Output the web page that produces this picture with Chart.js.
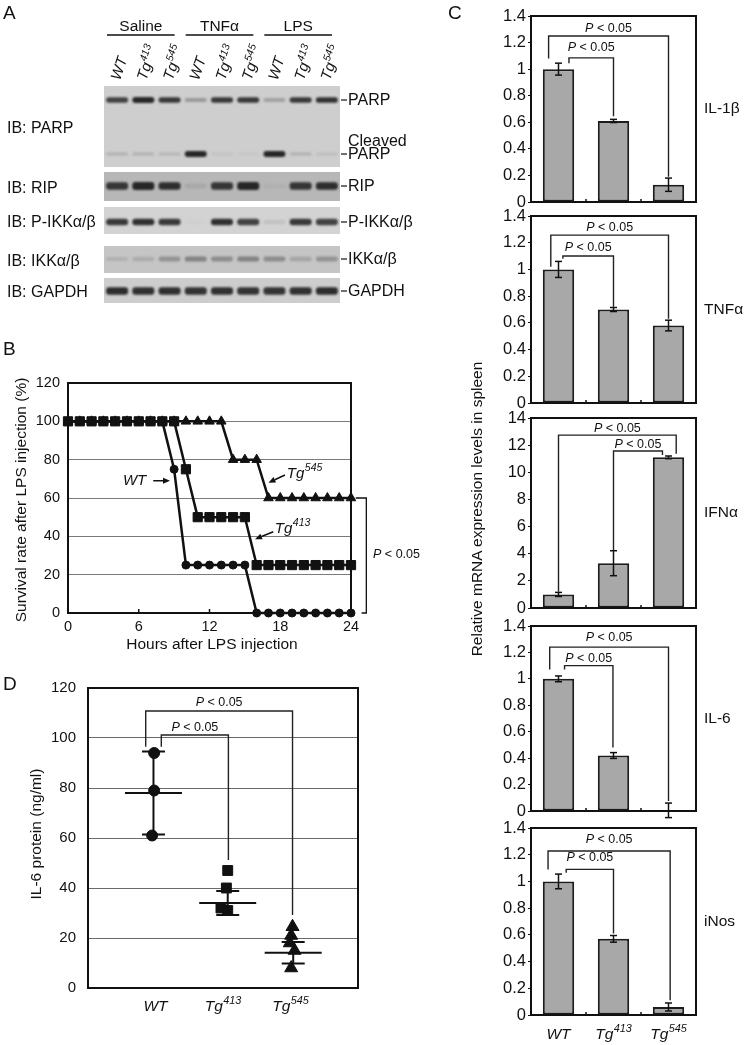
<!DOCTYPE html>
<html><head><meta charset="utf-8">
<script src="https://cdn.jsdelivr.net/npm/chart.js@4.4.1/dist/chart.umd.min.js"></script>
<style>
html,body{margin:0;padding:0;background:#fff;}
body{position:relative;width:744px;height:1045px;overflow:hidden;font-family:"Liberation Sans",Arial,Helvetica,sans-serif;color:#111;}
canvas{position:absolute;}
.t{position:absolute;white-space:nowrap;line-height:1;color:#111;filter:grayscale(100%);}
.rot{transform:translate(-50%,-50%) rotate(-90deg);}
.ctr{transform:translate(-50%,-50%);}
</style></head><body>
<div class="t" style="left:3px;top:3px;font-size:19px">A</div>
<div class="t" style="left:3px;top:339px;font-size:19px">B</div>
<div class="t" style="left:448px;top:3px;font-size:19px">C</div>
<div class="t" style="left:3px;top:674px;font-size:19px">D</div>
<div class="t ctr" style="left:212px;top:644px;font-size:15.5px">Hours after LPS injection</div>
<div class="t rot" style="left:21px;top:500px;font-size:15.5px">Survival rate after LPS injection (%)</div>
<div class="t rot" style="left:36px;top:834px;font-size:15.5px">IL-6 protein (ng/ml)</div>
<div class="t rot" style="left:477px;top:509px;font-size:15.5px">Relative mRNA expression levels in spleen</div>
<script>
// ================= DATA =================
// Panel A (western blot): lanes, treatments, band intensities (0..1)
const laneLabels = ['WT','Tg^413','Tg^545','WT','Tg^413','Tg^545','WT','Tg^413','Tg^545'];
const treatmentLabels = ['Saline','TNFα','LPS'];
const blotLeftLabels = ['IB: PARP','IB: RIP','IB: P-IKKα/β','IB: IKKα/β','IB: GAPDH'];
const blotRightLabels = ['PARP','PARP','RIP','P-IKKα/β','IKKα/β','GAPDH'];
const bandPARP        = [0.80,0.95,0.85,0.30,0.85,0.85,0.25,0.85,0.90];
const bandCleavedPARP = [0.15,0.15,0.12,0.95,0.06,0.04,0.95,0.15,0.08];
const bandRIP         = [0.85,0.95,0.90,0.10,0.85,0.95,0.05,0.85,0.90];
const bandPIKK        = [0.85,0.90,0.85,0.02,0.90,0.80,0.10,0.85,0.80];
const bandIKK         = [0.12,0.15,0.30,0.40,0.35,0.40,0.35,0.20,0.30];
const bandGAPDH       = [0.92,0.90,0.90,0.88,0.90,0.88,0.88,0.90,0.92];

// Panel B (survival)
const hours = [0,1,2,3,4,5,6,7,8,9,10,11,12,13,14,15,16,17,18,19,20,21,22,23,24];
const survivalWT    = [100,100,100,100,100,100,100,100,100,75,25,25,25,25,25,25,0,0,0,0,0,0,0,0,0];
const survivalTg413 = [100,100,100,100,100,100,100,100,100,100,75,50,50,50,50,50,25,25,25,25,25,25,25,25,25];
const survivalTg545 = [100,100,100,100,100,100,100,100,100,100,100,100,100,100,80,80,80,60,60,60,60,60,60,60,60];
const survivalTicksX = [0,6,12,18,24];
// annotations: [label, textX, textY, arrowFromX, arrowFromY, arrowToX, arrowToY] (hours, %)
const survivalNotes = [
  ['WT', 4.66, 66.8, 7.23, 69.0, 8.65, 69.0],
  ['Tg^545', 18.56, 70.6, 18.4, 72.0, 17.0, 68.0],
  ['Tg^413', 17.54, 41.9, 17.41, 42.4, 15.86, 38.5]
];
// P bracket: [startX, bracketX, bottomStartX, top%, bottom%, labelX, label%]
const survivalBracket = [24.4, 25.3, 24.9, 60, 0, 25.87, 31.3];

// Groups
const groupLabels = ['WT','Tg^413','Tg^545'];

// Panel D (IL-6 protein, ng/ml)
const il6WT_x    = [0.98, 0.98, 0.95];
const il6WT_y    = [94, 79, 61];
const il6Tg413_x = [2.07, 2.05, 1.97, 2.07];
const il6Tg413_y = [47, 40, 32, 31];
const il6Tg545_x = [3.03, 3.01, 2.99, 3.06, 3.01];
const il6Tg545_y = [24.5, 21, 18, 15, 8];
const il6Means   = [78.0, 34.0, 14.1];
const il6Errors  = [16.6, 4.8, 4.3];
const il6MeanX   = [0.97, 2.07, 3.04];
const il6GroupX  = [1, 2, 3];
// brackets: [fromX, toX, top, fromEnd, toEnd, labelY]
const il6ProteinBrackets = [[0.855, 3.03, 110.8, 96.5, 29.2, 114.5], [1.086, 2.08, 101.2, 96.5, 51.2, 104.8]];

// Panel C (relative mRNA)
const mrnaGenes = ['IL-1β','TNFα','IFNα','IL-6','iNos'];
const il1bValues = [1.00, 0.61, 0.13];  const il1bErrors = [0.045, 0.012, 0.05];
const tnfaValues = [1.00, 0.70, 0.58];  const tnfaErrors = [0.06, 0.015, 0.04];
const ifnaValues = [1.00, 3.30, 11.1];  const ifnaErrors = [0.15, 0.92, 0.10];
const il6mValues = [1.00, 0.42, 0.005]; const il6mErrors = [0.022, 0.022, 0.055];
const inosValues = [1.00, 0.57, 0.06];  const inosErrors = [0.055, 0.025, 0.03];
const mrnaMax  = [1.4, 1.4, 14, 1.4, 1.4];
const mrnaStep = [0.2, 0.2, 2, 0.2, 0.2];
// brackets in category units: [fromX, toX, top, fromEnd, toEnd, labelY]
const il1bBrackets = [[-0.18, 2.0, 1.25, 1.08, 0.19, 1.31], [0.19, 1.0, 1.085, 1.045, 0.645, 1.17]];
const tnfaBrackets = [[-0.14, 2.0, 1.257, 1.02, 0.63, 1.32], [0.08, 1.0, 1.10, 1.08, 0.72, 1.17]];
const ifnaBrackets = [[0.0, 2.14, 12.74, 1.2, 11.37, 13.3], [1.0, 1.89, 11.57, 4.25, 11.27, 12.15]];
const il6mBrackets = [[-0.16, 2.0, 1.24, 1.07, 0.075, 1.32], [0.11, 0.99, 1.10, 1.07, 0.48, 1.16]];
const inosBrackets = [[-0.19, 2.03, 1.228, 1.09, 0.11, 1.32], [0.14, 1.0, 1.09, 1.065, 0.61, 1.19]];

// ================= LAYOUT / STYLE =================
const FONT = '"Liberation Sans", Arial, Helvetica, sans-serif';
Chart.defaults.font.family = FONT;
Chart.defaults.color = '#111';
Chart.defaults.animation = false;
Chart.defaults.responsive = false;
Chart.defaults.plugins.legend.display = false;
Chart.defaults.plugins.tooltip.enabled = false;
const INK = '#111';

function makeCanvas(left, top, w, h) {
  const c = document.createElement('canvas');
  c.width = w; c.height = h;
  c.style.left = left + 'px'; c.style.top = top + 'px';
  c.style.width = w + 'px'; c.style.height = h + 'px';
  document.body.appendChild(c);
  return c;
}
function fnt(size, italic) { return (italic ? 'italic ' : '') + size + 'px ' + FONT; }
function drawRich(ctx, label, x, y, size, italic, align) {
  const parts = label.split('^');
  const base = parts[0], sup = parts[1];
  ctx.font = fnt(size, italic);
  const wb = ctx.measureText(base).width;
  let ws = 0;
  if (sup) { ctx.font = fnt(size * 0.7, italic); ws = ctx.measureText(sup).width + 0.5; }
  const total = wb + ws;
  const x0 = align === 'center' ? x - total / 2 : align === 'right' ? x - total : x;
  ctx.textAlign = 'left'; ctx.textBaseline = 'alphabetic';
  ctx.font = fnt(size, italic); ctx.fillText(base, x0, y);
  if (sup) { ctx.font = fnt(size * 0.7, italic); ctx.fillText(sup, x0 + wb + 0.5, y - size * 0.42); }
}
function drawP(ctx, x, yCenter, size, align) {
  ctx.textAlign = 'left'; ctx.textBaseline = 'alphabetic';
  ctx.font = fnt(size, true); const w1 = ctx.measureText('P').width;
  ctx.font = fnt(size, false); const w2 = ctx.measureText(' < 0.05').width;
  const x0 = align === 'left' ? x : x - (w1 + w2) / 2;
  const y = yCenter + size * 0.36;
  ctx.font = fnt(size, true); ctx.fillText('P', x0, y);
  ctx.font = fnt(size, false); ctx.fillText(' < 0.05', x0 + w1, y);
}
function seg(ctx, pts) {
  ctx.beginPath(); ctx.moveTo(pts[0][0], pts[0][1]);
  for (let i = 1; i < pts.length; i++) ctx.lineTo(pts[i][0], pts[i][1]);
  ctx.stroke();
}
function drawBox(chart) {
  const { ctx, chartArea: a } = chart;
  ctx.save(); ctx.strokeStyle = INK; ctx.lineWidth = 2;
  ctx.strokeRect(a.left, a.top, a.right - a.left, a.bottom - a.top);
  ctx.restore();
}
function drawBrackets(chart, brackets, labelSize) {
  const { ctx, scales: { x, y } } = chart;
  ctx.save(); ctx.strokeStyle = '#222'; ctx.fillStyle = INK; ctx.lineWidth = 1.4;
  brackets.forEach(b => {
    const x1 = x.getPixelForValue(b[0]), x2 = x.getPixelForValue(b[1]);
    seg(ctx, [[x1, y.getPixelForValue(b[3])], [x1, y.getPixelForValue(b[2])], [x2, y.getPixelForValue(b[2])], [x2, y.getPixelForValue(b[4])]]);
    drawP(ctx, (x1 + x2) / 2, y.getPixelForValue(b[5]), labelSize, 'center');
  });
  ctx.restore();
}

// ================= PANEL A =================
// strips: [top, bottom, gray]; bands: [centre, thickness, strip]
const blotLayout = {
  strips: [[86, 167, 206], [172, 201, 183], [207, 234, 211], [246, 273, 197], [278, 303, 205]],
  bands: [[100, 6, 0], [154, 6, 0], [186, 8, 1], [222, 7, 2], [259, 7, 3], [291, 8, 4]]
};
const bandRows = [bandPARP, bandCleavedPARP, bandRIP, bandPIKK, bandIKK, bandGAPDH];
const bandDatasets = bandRows.map((vals, r) => {
  const [cy, th, si] = blotLayout.bands[r];
  const base = blotLayout.strips[si][2];
  return {
    data: vals.map(v => { const t = th * (0.55 + 0.45 * v) / 2; return [cy - t, cy + t]; }),
    backgroundColor: vals.map(v => { const g = Math.round(base - (base - 30) * v); return `rgb(${g},${g},${g})`; }),
    barPercentage: 0.84, categoryPercentage: 1, grouped: false,
    borderRadius: 3, borderSkipped: false, blur: true
  };
});
const blotPlugin = {
  id: 'blot',
  beforeDatasetsDraw(chart) {
    const { ctx, chartArea: a, scales: { y } } = chart;
    blotLayout.strips.forEach(([y0, y1, g]) => {
      ctx.fillStyle = `rgb(${g},${g},${g})`;
      const p0 = y.getPixelForValue(y0), p1 = y.getPixelForValue(y1);
      ctx.fillRect(a.left, p0, a.right - a.left, p1 - p0);
    });
  },
  beforeDatasetDraw(chart, args) {
    if (chart.data.datasets[args.index].blur) { chart.ctx.save(); chart.ctx.filter = 'blur(1px)'; }
  },
  afterDatasetDraw(chart, args) {
    if (chart.data.datasets[args.index].blur) { chart.ctx.restore(); }
  },
  afterDraw(chart) {
    const { ctx, chartArea: a, scales: { x, y } } = chart;
    const lw = (a.right - a.left) / laneLabels.length;
    ctx.save(); ctx.fillStyle = INK; ctx.strokeStyle = INK;
    laneLabels.forEach((lab, i) => {
      ctx.save(); ctx.translate(x.getPixelForValue(i) + 3, 81); ctx.rotate(-72 * Math.PI / 180);
      drawRich(ctx, lab, 0, 0, 15, true, 'left'); ctx.restore();
    });
    treatmentLabels.forEach((lab, g) => {
      const xl = x.getPixelForValue(g * 3) - lw / 2 + 3, xr = x.getPixelForValue(g * 3 + 2) + lw / 2 - 8;
      ctx.lineWidth = 1.5; seg(ctx, [[xl, 35], [xr, 35]]);
      ctx.font = fnt(15.5); ctx.textAlign = 'center'; ctx.textBaseline = 'alphabetic';
      ctx.fillText(lab, (xl + xr) / 2, 31);
    });
    blotLeftLabels.forEach((lab, s) => {
      const [y0, y1] = blotLayout.strips[s];
      ctx.font = fnt(16); ctx.textAlign = 'left'; ctx.textBaseline = 'middle';
      ctx.fillText(lab, 7, (y.getPixelForValue(y0) + y.getPixelForValue(y1)) / 2 + 2);
    });
    blotRightLabels.forEach((lab, r) => {
      const py = y.getPixelForValue(blotLayout.bands[r][0]);
      ctx.lineWidth = 1.2; seg(ctx, [[a.right + 1, py], [a.right + 7, py]]);
      ctx.font = fnt(16); ctx.textAlign = 'left'; ctx.textBaseline = 'middle';
      ctx.fillText(lab, a.right + 8, py + 1);
      if (r === 1) ctx.fillText('Cleaved', a.right + 8, py - 12);
    });
    ctx.restore();
  }
};
new Chart(makeCanvas(0, 0, 470, 310), {
  type: 'bar',
  data: { labels: laneLabels, datasets: bandDatasets },
  options: {
    layout: { padding: { left: 104, top: 86, right: 130, bottom: 7 } },
    scales: { x: { display: false }, y: { display: false, min: 86, max: 303, reverse: true } }
  },
  plugins: [blotPlugin]
});

// ================= PANEL B =================
function lineSet(values, style, radius, order) {
  return {
    data: hours.map((h, i) => ({ x: h, y: values[i] })),
    borderColor: INK, backgroundColor: INK, borderWidth: 2.5,
    pointStyle: style, pointRadius: radius, pointBackgroundColor: INK, pointBorderColor: INK, pointBorderWidth: 1,
    order: order, clip: false, tension: 0, fill: false
  };
}
const survivalPlugin = {
  id: 'survival',
  beforeDatasetsDraw(chart) {
    drawBox(chart);
    const { ctx, chartArea: a, scales: { x } } = chart;
    ctx.save(); ctx.strokeStyle = INK; ctx.lineWidth = 1.5;
    survivalTicksX.slice(1, -1).forEach(t => { const px = x.getPixelForValue(t); seg(ctx, [[px, a.bottom], [px, a.bottom - 4]]); });
    ctx.restore();
  },
  afterDraw(chart) {
    const { ctx, scales: { x, y } } = chart;
    ctx.save(); ctx.fillStyle = INK; ctx.strokeStyle = INK; ctx.lineWidth = 1.5;
    survivalNotes.forEach(n => {
      drawRich(ctx, n[0], x.getPixelForValue(n[1]), y.getPixelForValue(n[2]), 15, true, 'left');
      const x1 = x.getPixelForValue(n[3]), y1 = y.getPixelForValue(n[4]);
      const x2 = x.getPixelForValue(n[5]), y2 = y.getPixelForValue(n[6]);
      const ang = Math.atan2(y2 - y1, x2 - x1), L = 7, W = 3;
      const bx = x2 - L * Math.cos(ang), by = y2 - L * Math.sin(ang);
      seg(ctx, [[x1, y1], [bx, by]]);
      ctx.beginPath(); ctx.moveTo(x2, y2);
      ctx.lineTo(bx + W * Math.sin(ang), by - W * Math.cos(ang));
      ctx.lineTo(bx - W * Math.sin(ang), by + W * Math.cos(ang)); ctx.closePath(); ctx.fill();
    });
    const b = survivalBracket;
    ctx.lineWidth = 1.3;
    seg(ctx, [[x.getPixelForValue(b[0]), y.getPixelForValue(b[3])], [x.getPixelForValue(b[1]), y.getPixelForValue(b[3])],
              [x.getPixelForValue(b[1]), y.getPixelForValue(b[4])], [x.getPixelForValue(b[2]), y.getPixelForValue(b[4])]]);
    drawP(ctx, x.getPixelForValue(b[5]), y.getPixelForValue(b[6]), 12.5, 'left');
    ctx.restore();
  }
};
new Chart(makeCanvas(0, 360, 440, 290), {
  type: 'line',
  data: { datasets: [
    lineSet(survivalTg413, 'rect', 6.5, 0),
    lineSet(survivalWT, 'circle', 4, 1),
    lineSet(survivalTg545, 'triangle', 5.5, 2)
  ] },
  options: {
    layout: { padding: { top: 23, right: 89, left: 0, bottom: 0 } },
    scales: {
      x: { type: 'linear', min: 0, max: 24, afterBuildTicks: s => { s.ticks = survivalTicksX.map(v => ({ value: v })); },
           ticks: { font: { size: 14.5 }, padding: 5 }, grid: { display: false, drawTicks: false }, border: { display: false },
           afterFit: s => { s.height = 37; } },
      y: { min: 0, max: 120, ticks: { stepSize: 20, padding: 8, font: { size: 14.5 } },
           grid: { color: c => (c.tick.value === 0 || c.tick.value === 120) ? 'rgba(0,0,0,0)' : '#7a7a7a', drawTicks: false },
           border: { display: false }, afterFit: s => { s.width = 68; } }
    }
  },
  plugins: [survivalPlugin]
});

// ================= PANEL D =================
function pts(xs, ys) { return ys.map((v, i) => ({ x: xs[i], y: v })); }
const proteinPlugin = {
  id: 'protein',
  beforeDatasetsDraw(chart) { drawBox(chart); },
  afterDatasetsDraw(chart) {
    const { ctx, scales: { x, y } } = chart;
    ctx.save(); ctx.strokeStyle = INK; ctx.lineWidth = 2;
    il6Means.forEach((m, i) => {
      const px = x.getPixelForValue(il6MeanX[i]);
      const pm = y.getPixelForValue(m), pt = y.getPixelForValue(m + il6Errors[i]), pb = y.getPixelForValue(m - il6Errors[i]);
      seg(ctx, [[px - 28.5, pm], [px + 28.5, pm]]);
      seg(ctx, [[px, pt], [px, pb]]);
      seg(ctx, [[px - 11.5, pt], [px + 11.5, pt]]);
      seg(ctx, [[px - 11.5, pb], [px + 11.5, pb]]);
    });
    ctx.restore();
    drawBrackets(chart, il6ProteinBrackets, 12.5);
    ctx.save(); ctx.fillStyle = INK;
    groupLabels.forEach((g, i) => drawRich(ctx, g, x.getPixelForValue(il6GroupX[i]), 351, 15.5, true, 'center'));
    ctx.restore();
  }
};
const markerStyle = { backgroundColor: INK, borderColor: INK, borderWidth: 1, clip: false };
new Chart(makeCanvas(0, 660, 380, 385), {
  type: 'scatter',
  data: { datasets: [
    Object.assign({ data: pts(il6WT_x, il6WT_y), pointStyle: 'circle', pointRadius: 5.5 }, markerStyle),
    Object.assign({ data: pts(il6Tg413_x, il6Tg413_y), pointStyle: 'rect', pointRadius: 7 }, markerStyle),
    Object.assign({ data: pts(il6Tg545_x, il6Tg545_y), pointStyle: 'triangle', pointRadius: 7.5 }, markerStyle)
  ] },
  options: {
    layout: { padding: { top: 28, right: 22, left: 0, bottom: 0 } },
    scales: {
      x: { type: 'linear', min: 0, max: 4, ticks: { display: false }, grid: { display: false, drawTicks: false }, border: { display: false },
           afterFit: s => { s.height = 57; } },
      y: { min: 0, max: 120, ticks: { stepSize: 20, padding: 12, font: { size: 15 } },
           grid: { color: c => (c.tick.value === 0 || c.tick.value === 120) ? 'rgba(0,0,0,0)' : '#6a6a6a', drawTicks: false },
           border: { display: false }, afterFit: s => { s.width = 88; } }
    }
  },
  plugins: [proteinPlugin]
});

// ================= PANEL C =================
const mrnaPanels = [
  { values: il1bValues, errors: il1bErrors, brackets: il1bBrackets },
  { values: tnfaValues, errors: tnfaErrors, brackets: tnfaBrackets },
  { values: ifnaValues, errors: ifnaErrors, brackets: ifnaBrackets },
  { values: il6mValues, errors: il6mErrors, brackets: il6mBrackets },
  { values: inosValues, errors: inosErrors, brackets: inosBrackets }
];
const cTops = [16, 216, 418, 626, 828];
const cBottoms = [202, 403, 608, 811, 1015];
function makeMrnaPlugin(k, showLabels, labelBase) {
  const p = mrnaPanels[k];
  return {
    id: 'mrna' + k,
    beforeDatasetsDraw(chart) {
      drawBox(chart);
      const { ctx, chartArea: a, scales: { x } } = chart;
      ctx.save(); ctx.strokeStyle = INK; ctx.lineWidth = 1.5;
      for (let i = 0; i < p.values.length - 1; i++) {
        const bx = (x.getPixelForValue(i) + x.getPixelForValue(i + 1)) / 2;
        seg(ctx, [[bx, a.bottom], [bx, a.bottom - 3]]);
      }
      ctx.restore();
    },
    afterDatasetsDraw(chart) {
      const { ctx, chartArea: a, scales: { x, y } } = chart;
      ctx.save(); ctx.strokeStyle = INK; ctx.lineWidth = 1.5;
      p.values.forEach((v, i) => {
        const px = x.getPixelForValue(i), pt = y.getPixelForValue(v + p.errors[i]), pb = y.getPixelForValue(v - p.errors[i]);
        seg(ctx, [[px, pt], [px, pb]]);
        seg(ctx, [[px - 3.5, pt], [px + 3.5, pt]]);
        seg(ctx, [[px - 3.5, pb], [px + 3.5, pb]]);
      });
      ctx.restore();
      drawBrackets(chart, p.brackets, 12.5);
      ctx.save(); ctx.fillStyle = INK; ctx.font = fnt(15.5); ctx.textAlign = 'left'; ctx.textBaseline = 'middle';
      ctx.fillText(mrnaGenes[k], a.right + 8, (a.top + a.bottom) / 2);
      if (showLabels) groupLabels.forEach((g, i) => drawRich(ctx, g, x.getPixelForValue(i), labelBase, 15.5, true, 'center'));
      ctx.restore();
    }
  };
}
mrnaPanels.forEach((p, k) => {
  const padTop = 14, bottomH = k === 4 ? 30 : 12;
  const h = (cBottoms[k] - cTops[k]) + padTop + bottomH;
  const top = cTops[k] - padTop;
  new Chart(makeCanvas(490, top, 254, h), {
    type: 'bar',
    data: { labels: groupLabels, datasets: [{ data: p.values, backgroundColor: '#a8a8a8', borderColor: '#1c1c1c', borderWidth: 2,
      borderSkipped: false, barPercentage: 0.57, categoryPercentage: 1 }] },
    options: {
      layout: { padding: { top: padTop, right: 48, left: 0, bottom: 0 } },
      scales: {
        x: { ticks: { display: false }, grid: { display: false, drawTicks: false }, border: { display: false }, afterFit: s => { s.height = bottomH; } },
        y: { min: 0, max: mrnaMax[k], ticks: { stepSize: mrnaStep[k], padding: 2, font: { size: 16.5 },
               callback: v => String(Number(v.toFixed(1))) },
             grid: { drawOnChartArea: false, drawTicks: true, tickLength: 3, color: INK }, border: { display: false },
             afterFit: s => { s.width = 41; } }
      }
    },
    plugins: [makeMrnaPlugin(k, k === 4, 1039 - top)]
  });
});
</script>
</body></html>
